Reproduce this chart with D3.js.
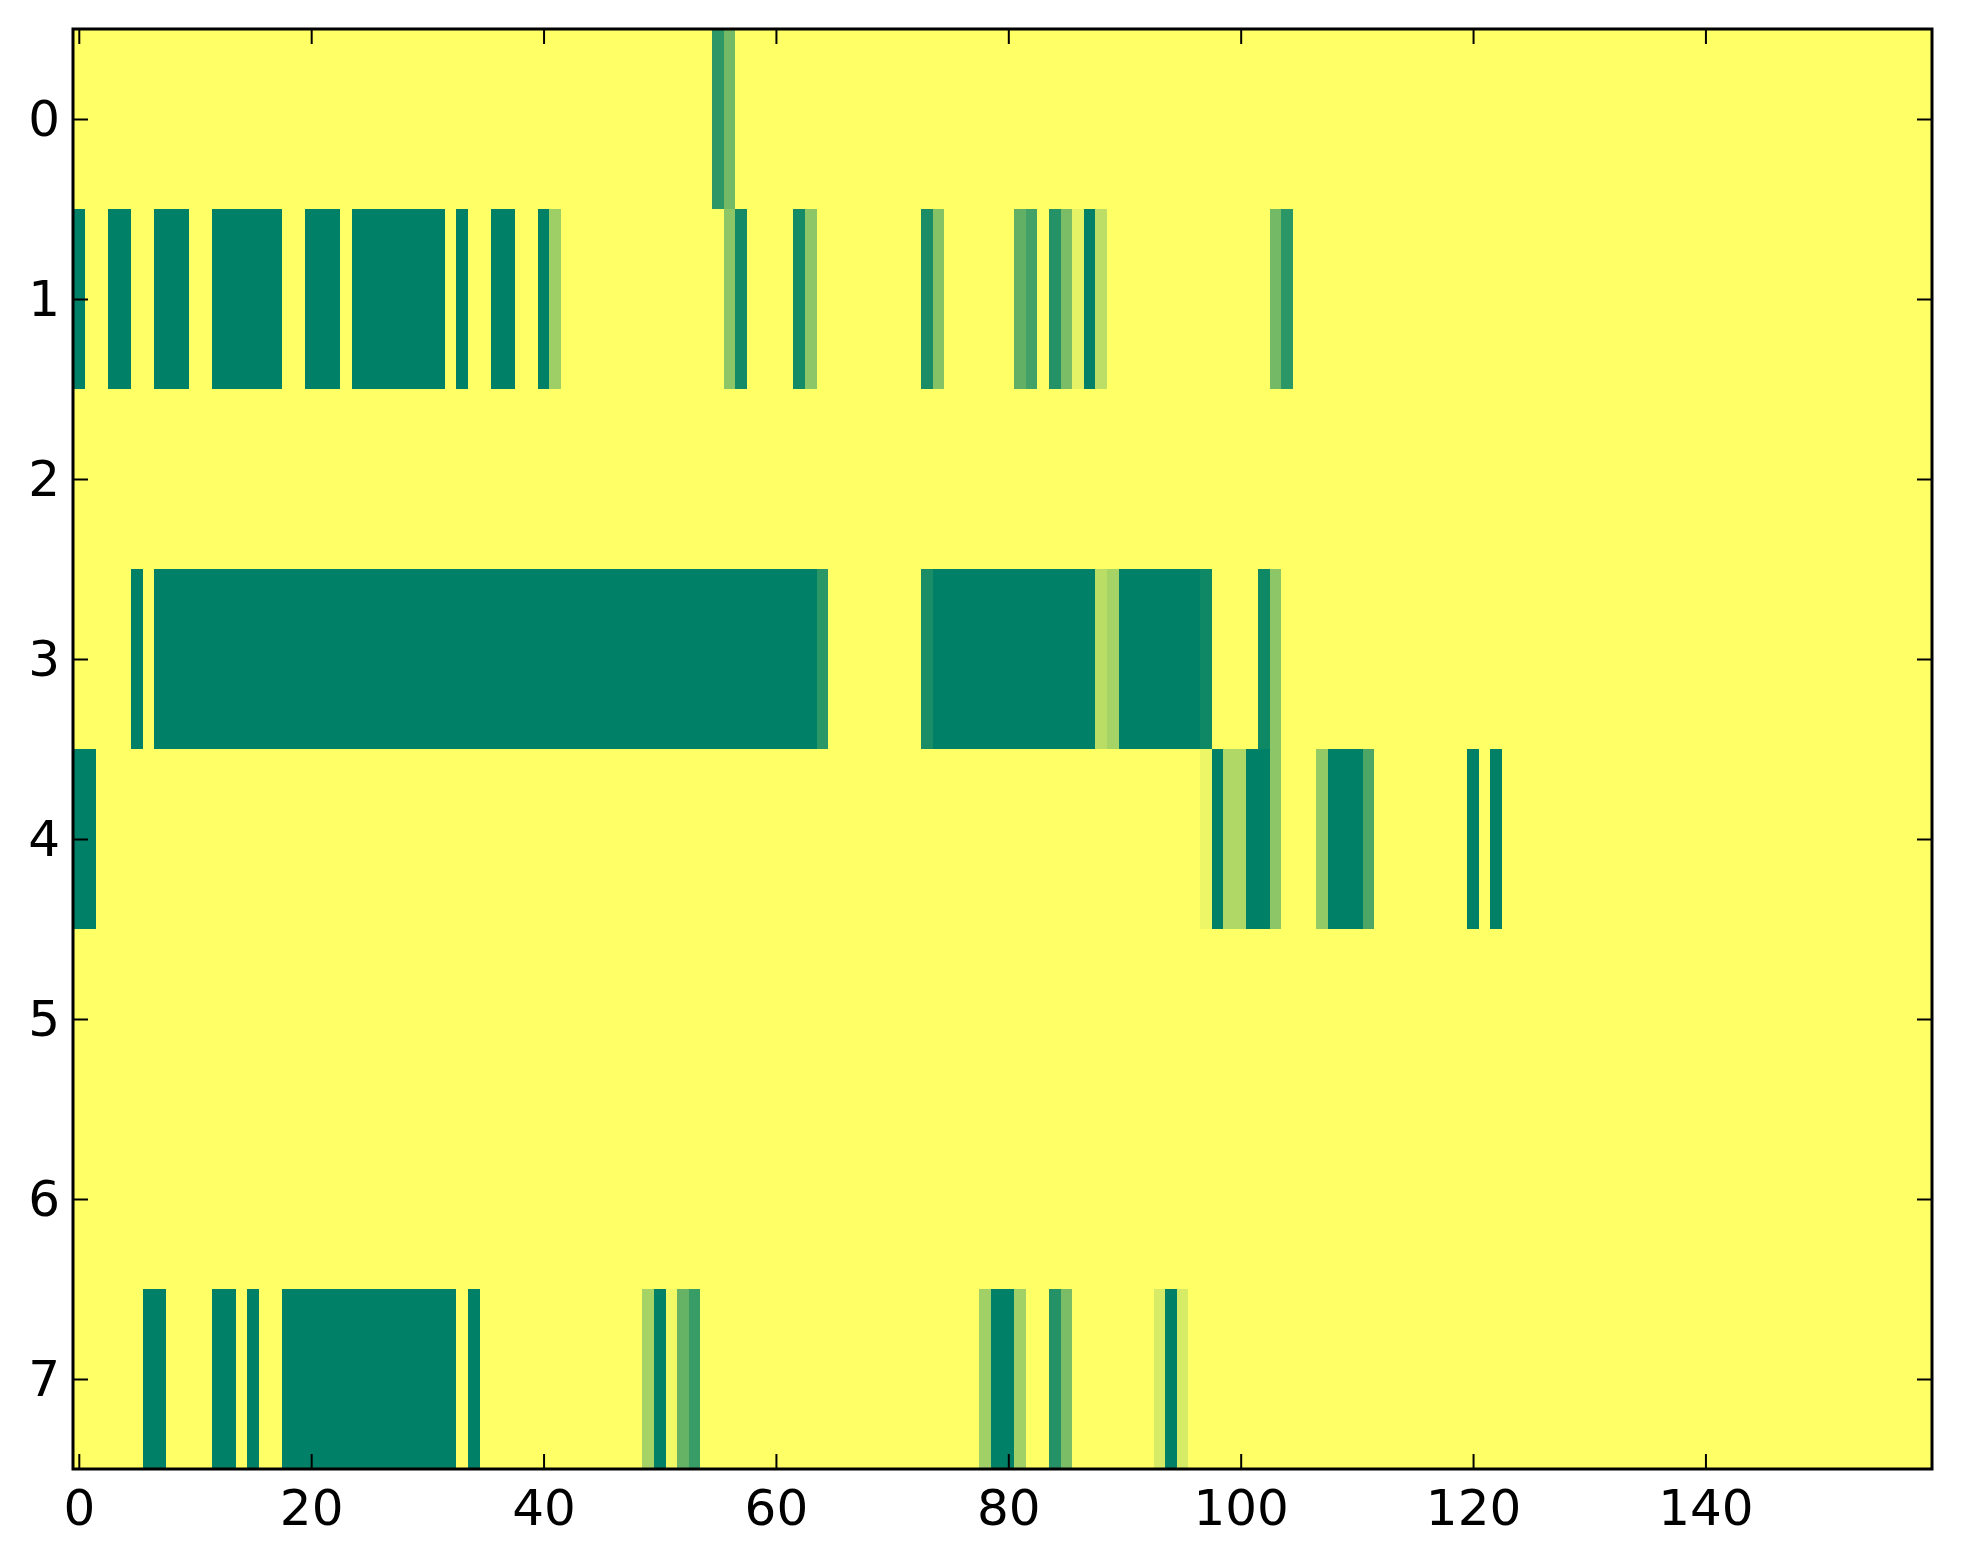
<!DOCTYPE html>
<html>
<head>
<meta charset="utf-8">
<script src="https://cdn.jsdelivr.net/npm/d3@7"></script>
<style>
  html, body { margin: 0; padding: 0; background: #fff; }
  svg { display: block; }
</style>
</head>
<body>
<svg id="chart" width="1963" height="1564"></svg>
<script>
// ---- data ----
const nCols = 160;
const rowLabels = [0, 1, 2, 3, 4, 5, 6, 7];
const xTickValues = [0, 20, 40, 60, 80, 100, 120, 140];
// runs per row: [firstColumn, lastColumn, value]  (value 0..1, unlisted cells = 0)
const row0 = [[55,55,0.82],[56,56,0.55]];
const row1 = [[0,0,1],[3,4,1],[7,9,1],[12,17,1],[20,22,1],[24,31,1],[33,33,1],[36,37,1],
              [40,40,1],[41,41,0.38],[56,56,0.45],[57,57,0.92],[62,62,0.92],[63,63,0.45],
              [73,73,0.9],[74,74,0.48],[81,81,0.62],[82,82,0.74],[84,84,0.86],[85,85,0.52],
              [86,86,0.1],[87,87,1],[88,88,0.26],[103,103,0.55],[104,104,0.83]];
const row2 = [];
const row3 = [[5,5,1],[7,63,1],[64,64,0.83],[73,73,0.9],[74,87,1],[88,88,0.27],[89,89,0.35],
              [90,96,1],[97,97,0.94],[102,102,0.94],[103,103,0.45]];
const row4 = [[0,1,1],[97,97,0.07],[98,98,1],[99,100,0.31],[101,102,1],[103,103,0.45],
              [107,107,0.42],[108,110,1],[111,111,0.7],[120,120,1],[122,122,1]];
const row5 = [];
const row6 = [];
const row7 = [[6,7,1],[12,13,1],[15,15,1],[18,32,1],[34,34,1],[49,49,0.35],[50,50,1],
              [51,51,0.05],[52,52,0.6],[53,53,0.78],[78,78,0.37],[79,80,1],[81,81,0.37],
              [84,84,0.86],[85,85,0.52],[93,93,0.16],[94,94,1],[95,95,0.16]];
const rowRuns = [row0, row1, row2, row3, row4, row5, row6, row7];

// build full matrix
const cells = [];
rowRuns.forEach((runs, r) => {
  const vals = new Array(nCols).fill(0);
  runs.forEach(([a, b, v]) => { for (let c = a; c <= b; c++) vals[c] = v; });
  vals.forEach((v, c) => cells.push({ r, c, v }));
});

// ---- layout ----
const L = 73, R = 1932, T = 29, B = 1469;
const svg = d3.select("#chart");
const x = d3.scaleLinear().domain([-0.5, nCols - 0.5]).range([L, R]);
const y = d3.scaleLinear().domain([-0.5, rowLabels.length - 0.5]).range([T, B]);
const color = d3.scaleLinear().domain([0, 1]).range(["#ffff66", "#008066"]).interpolate(d3.interpolateRgb);

svg.append("g").attr("shape-rendering", "crispEdges")
  .selectAll("rect").data(cells).join("rect")
  .attr("x", d => x(d.c - 0.5))
  .attr("y", d => y(d.r - 0.5))
  .attr("width", d => x(d.c + 0.5) - x(d.c - 0.5) + 0.5)
  .attr("height", d => y(d.r + 0.5) - y(d.r - 0.5) + 0.5)
  .attr("fill", d => color(d.v));

const font = "'DejaVu Sans', sans-serif";
function styleAxis(g) {
  g.select(".domain").remove();
  g.selectAll(".tick line").attr("stroke", "#000").attr("stroke-width", 2);
  g.selectAll(".tick text").attr("font-family", font).attr("font-size", 50).attr("fill", "#000");
}
svg.append("g").attr("transform", `translate(0,${B})`)
  .call(d3.axisBottom(x).tickValues(xTickValues).tickFormat(d3.format("d")).tickSize(-15).tickPadding(20))
  .call(styleAxis);
svg.append("g").attr("transform", `translate(0,${T})`)
  .call(d3.axisTop(x).tickValues(xTickValues).tickFormat("").tickSize(-15))
  .call(styleAxis);
svg.append("g").attr("transform", `translate(${L},0)`)
  .call(d3.axisLeft(y).tickValues(rowLabels).tickFormat(d3.format("d")).tickSize(-15).tickPadding(13))
  .call(styleAxis);
svg.append("g").attr("transform", `translate(${R},0)`)
  .call(d3.axisRight(y).tickValues(rowLabels).tickFormat("").tickSize(-15))
  .call(styleAxis);

svg.append("rect")
  .attr("x", L).attr("y", T).attr("width", R - L).attr("height", B - T)
  .attr("fill", "none").attr("stroke", "#000").attr("stroke-width", 3);
</script>
</body>
</html>
